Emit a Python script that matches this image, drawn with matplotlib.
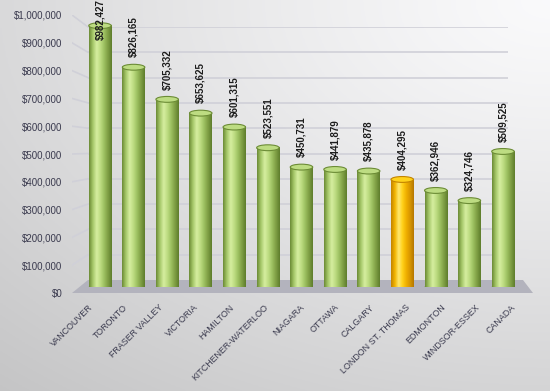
import numpy as np
import matplotlib
matplotlib.use('Agg')
import matplotlib.pyplot as plt
from matplotlib.patches import Ellipse, Polygon
from matplotlib.lines import Line2D

regions = ['VANCOUVER', 'TORONTO', 'FRASER VALLEY', 'VICTORIA', 'HAMILTON',
           'KITCHENER-WATERLOO', 'NIAGARA', 'OTTAWA', 'CALGARY',
           'LONDON ST. THOMAS', 'EDMONTON', 'WINDSOR-ESSEX', 'CANADA']
prices = [982427, 826165, 705332, 653625, 601315, 523551, 450731,
          441879, 435878, 404295, 362946, 324746, 509525]
highlight = 'LONDON ST. THOMAS'
y_ticks = list(range(0, 1000001, 100000))

W, H = 550, 391
plt.rcParams['font.family'] = ['Liberation Sans', 'DejaVu Sans']


def fx(px):
    return px / W


def fy(py):
    return 1 - py / H


def box(x0, x1, y_bottom, y_top):
    return [fx(x0), fy(y_bottom), fx(x1) - fx(x0), fy(y_top) - fy(y_bottom)]


fig = plt.figure(figsize=(5.5, 3.91), dpi=100)

# background gradient, light at top right, grey towards bottom left
bg = fig.add_axes([0, 0, 1, 1], zorder=0)
gx, gy = np.meshgrid(np.linspace(0, 1, 200), np.linspace(0, 1, 200))
d = np.sqrt((1 - gx) ** 2 * 0.8 + gy ** 2)
shade = 0.985 - 0.21 * np.clip(d / 1.34, 0, 1) ** 1.2
img = np.dstack([shade * 0.995, shade * 0.995, shade * 1.0])
bg.imshow(np.clip(img, 0, 1), extent=[0, 1, 0, 1], aspect='auto', origin='upper')
bg.axis('off')

# back wall with gridlines
wall = fig.add_axes(box(88, 508, 280, 27), zorder=1)
wall.set_ylim(0, 1000000)
wall.set_xlim(0, 1)
for t in y_ticks[1:]:
    wall.axhline(t, color='#d0d0d8', lw=1.2)
wall.axis('off')

# floor
floor = Polygon([(fx(88), fy(280)), (fx(523), fy(280)), (fx(533), fy(293)), (fx(72), fy(293))],
                closed=True, transform=fig.transFigure, facecolor='#b3b3bd', edgecolor='none')
wall.add_artist(floor)
floor.set_clip_on(False)
wall.add_artist(Line2D([fx(72), fx(533)], [fy(293), fy(293)], transform=fig.transFigure,
                       color='#3c3c4e', lw=2))

# front axis with tick labels
front = fig.add_axes(box(72, 533, 293, 15), zorder=2)
front.patch.set_visible(False)
front.set_ylim(0, 1000000)
front.set_xlim(-(88 - 72) / 35.25, (533 - 88) / 35.25)
front.set_yticks(y_ticks)
front.set_yticklabels(['${:,.0f}'.format(t) for t in y_ticks])
front.set_xticks(range(len(regions)))
front.set_xticklabels(regions, rotation=45, ha='right', rotation_mode='anchor')
front.tick_params(axis='y', length=0, pad=7, labelsize=7, labelcolor='#3a3a4e')
front.tick_params(axis='x', length=0, pad=7, labelsize=6.4, labelcolor='#3a3a4e')
for s in front.spines.values():
    s.set_visible(False)

# diagonal connectors from front ticks to back wall
for t in y_ticks[1:]:
    yf = 293 - t * 278e-6
    yb = 280 - t * 253e-6
    front.add_artist(Line2D([fx(72), fx(88)], [fy(yf), fy(yb)], transform=fig.transFigure,
                            color='#d0d0d8', lw=1.2))

# bars
ax = fig.add_axes(box(62, 540, 287, 21), zorder=3)
ax.patch.set_visible(False)
step = 33.58
bw = 22.5 / step
cap = 22000

green = ['#6c8c36', '#a6c86a', '#d6eea0', '#bddc82', '#9cc060', '#7e9e44', '#5f7d2c']
gold = ['#c38400', '#f2b400', '#ffe870', '#ffd21a', '#f0b000', '#d89600', '#b67800']


def ramp(stops, n=60):
    cols = np.array([matplotlib.colors.to_rgb(c) for c in stops])
    pos = np.linspace(0, 1, len(stops))
    t = np.linspace(0, 1, n)
    return np.dstack([np.interp(t, pos, cols[:, k]) for k in range(3)])


for i, (name, v) in enumerate(zip(regions, prices)):
    stops = gold if name == highlight else green
    grad = ramp(stops)
    ax.add_patch(Ellipse((i, 0), bw, cap, facecolor=stops[5], edgecolor='none', zorder=2))
    ax.imshow(grad, extent=[i - bw / 2, i + bw / 2, 0, v], aspect='auto', zorder=3,
              interpolation='bilinear')
    ax.add_patch(Ellipse((i, v), bw, cap, facecolor=stops[3], edgecolor=stops[0], lw=0.8, zorder=4))
    ytxt = min(v + 37000, 928000)
    ax.text(i, ytxt, '${:,.0f}'.format(v), rotation=90, ha='center', va='bottom',
            fontsize=7, fontweight='bold', color='#1c1c1c', zorder=5)

ax.set_xlim(-(100 - 62) / step, (540 - 100) / step)
ax.set_ylim(0, 1000000)
ax.axis('off')

fig.savefig('out.png', dpi=100)
